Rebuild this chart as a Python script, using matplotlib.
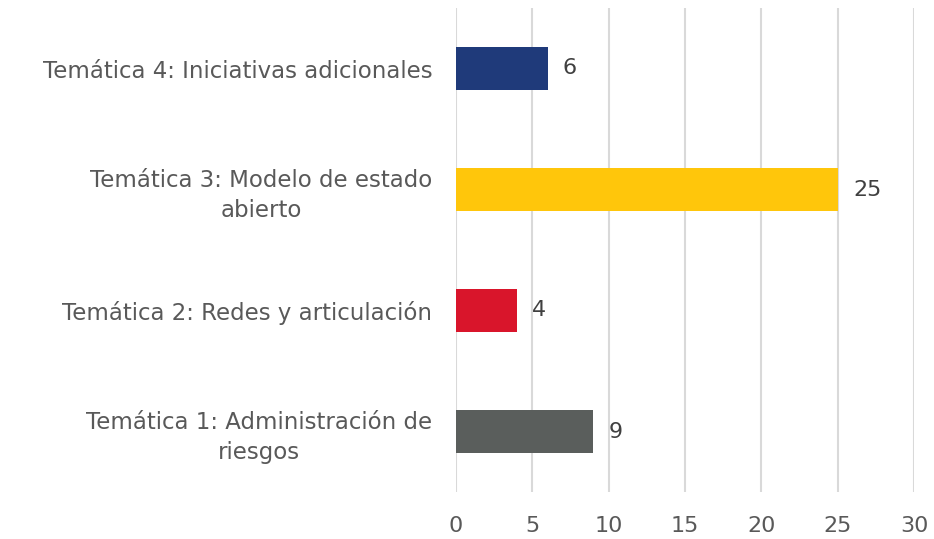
import matplotlib
matplotlib.use("Agg")
import matplotlib.pyplot as plt

plt.rcParams["font.family"] = ["DejaVu Sans"]

categories = ["Temática 1: Administración de\nriesgos",
              "Temática 2: Redes y articulación",
              "Temática 3: Modelo de estado\nabierto",
              "Temática 4: Iniciativas adicionales"]
values = [9, 4, 25, 6]
colors = ["#5A5E5C", "#D9152B", "#FFC60B", "#1F3A7A"]
xticks = [0, 5, 10, 15, 20, 25, 30]

fig = plt.figure(figsize=(9.34, 5.39), dpi=100)
ax = fig.add_axes([456/934, 1-492/539, (914-456)/934, (492-8)/539])

pos = list(range(len(categories)))
ax.barh(pos, values, height=0.35, color=colors, zorder=3)
for p, v in zip(pos, values):
    ax.text(v + 1.0, p, str(v), va="center", ha="left", fontsize=16, color="#404040")

ax.set_xlim(0, 30)
ax.set_ylim(-0.5, 3.5)
ax.set_xticks(xticks)
ax.set_xticklabels([str(t) for t in xticks], fontsize=16, color="#595959")
ax.set_yticks(pos)
ax.set_yticklabels(categories, fontsize=16.5, color="#595959",
                   multialignment="center", linespacing=1.4)
ax.tick_params(axis="both", length=0)
ax.tick_params(axis="x", pad=17)
ax.tick_params(axis="y", pad=17)
for s in ax.spines.values():
    s.set_visible(False)
ax.grid(axis="x", color="#D9D9D9", linewidth=1.5, zorder=0)

fig.savefig("out.png", dpi=100, facecolor="white")
